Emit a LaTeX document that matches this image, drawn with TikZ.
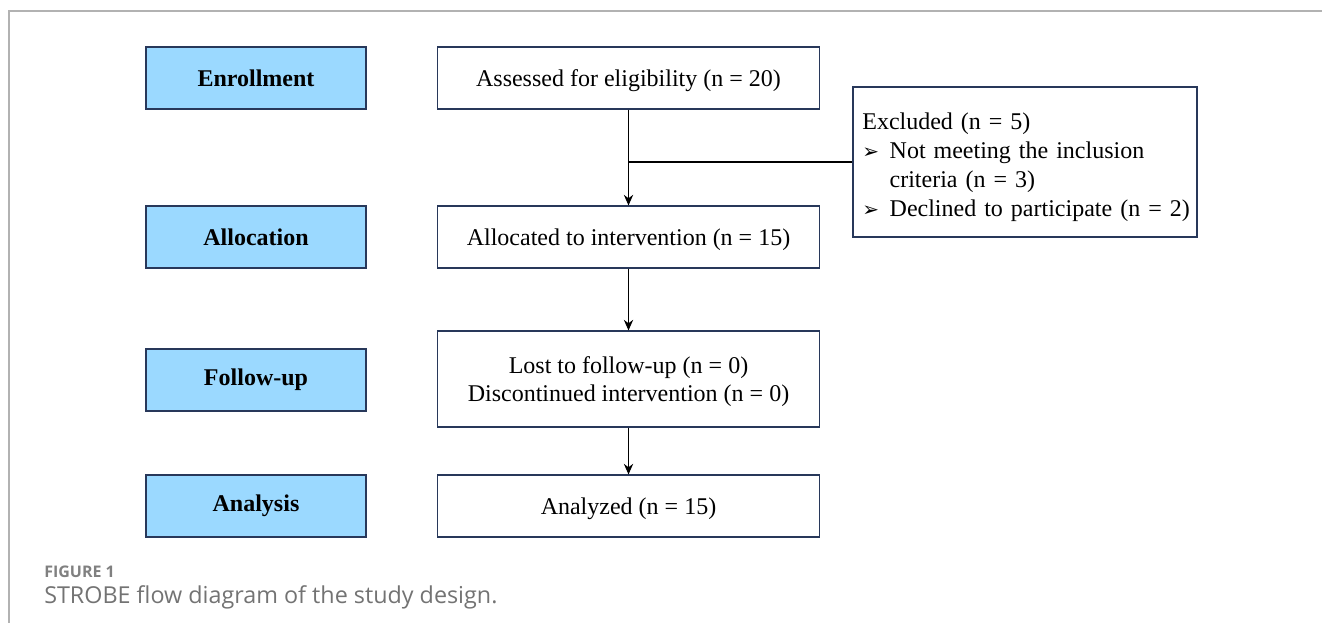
\documentclass[tikz,border=0pt]{standalone}
\usepackage{fontspec}
\setmainfont{Liberation Serif}
\newfontfamily\capfont{Open Sans}
\newfontfamily\symfont{DejaVu Sans}
\usetikzlibrary{positioning, arrows.meta}
\definecolor{stage}{RGB}{155,217,255}
\definecolor{navy}{RGB}{40,56,90}
\begin{document}
\begin{tikzpicture}[>={Stealth[length=8pt,width=7pt]}, x=0.75pt, y=-0.75pt,
  stagebox/.style={draw=navy, fill=stage, line width=1pt, minimum width=165pt, minimum height=46.5pt, font=\fontsize{18}{21}\selectfont\bfseries, inner sep=0pt},
  flowbox/.style={draw=navy, line width=0.8pt, minimum width=287pt, minimum height=46.5pt, font=\fontsize{18}{21.5}\selectfont, inner sep=0pt, text depth=0pt, align=center}]
\useasboundingbox (0,0) rectangle (1322,623);
\draw[black!30, line width=1.5pt](9,623)--(9,11)--(1322,11);
% stages on the left
\node[stagebox] (enrol) at (256,78) {Enrollment};
\node[stagebox] (alloc) at (256,237) {Allocation};
\node[stagebox] (follow) at (256,380) {Follow-up};
\node[stagebox] (analy) at (256,506) {Analysis};
% flow
\node[flowbox] (assess) at (628.5,78) {Assessed for eligibility (n = 20)};
\node[flowbox] (interv) at (628.5,237) {Allocated to intervention (n = 15)};
\node[flowbox, minimum height=72pt] (lost) at (628.5,379) {Lost to follow-up (n = 0)\\Discontinued intervention (n = 0)};
\node[flowbox] (done) at (628.5,506) {Analyzed (n = 15)};
\node[draw=navy, line width=0.8pt, minimum width=258pt, minimum height=112.5pt, inner sep=0pt, font=\fontsize{18}{21.75}\selectfont, align=left, text width=250pt] (excl) at (1025,162)
  {\rule{0pt}{20.5pt}\hspace*{3pt}Excluded (n = 5)\\
   \makebox[23.5pt][l]{\hspace*{3pt}\symfont\fontsize{15}{15}\selectfont ➢}Not meeting the inclusion\\
   \hspace*{23.5pt}criteria (n = 3)\\
   \makebox[23.5pt][l]{\hspace*{3pt}\symfont\fontsize{15}{15}\selectfont ➢}Declined to participate (n = 2)};
\draw[->, line width=0.9pt](assess)--(interv);
\draw[line width=0.9pt](assess.south |- excl.west)--(excl.west);
\draw[->, line width=0.9pt](interv)--(lost);
\draw[->, line width=0.9pt](lost)--(done);
% caption
\node[anchor=west, text=black!50, font=\capfont\bfseries\fontsize{12}{14}\selectfont, inner sep=0pt] (fig) at (44,572) {FIGURE 1};
\node[anchor=west, text=black!55, font=\capfont\fontsize{17.5}{20}\selectfont, inner sep=0pt] (cap) at (44,597) {STROBE flow diagram of the study design.};
\end{tikzpicture}
\end{document}
